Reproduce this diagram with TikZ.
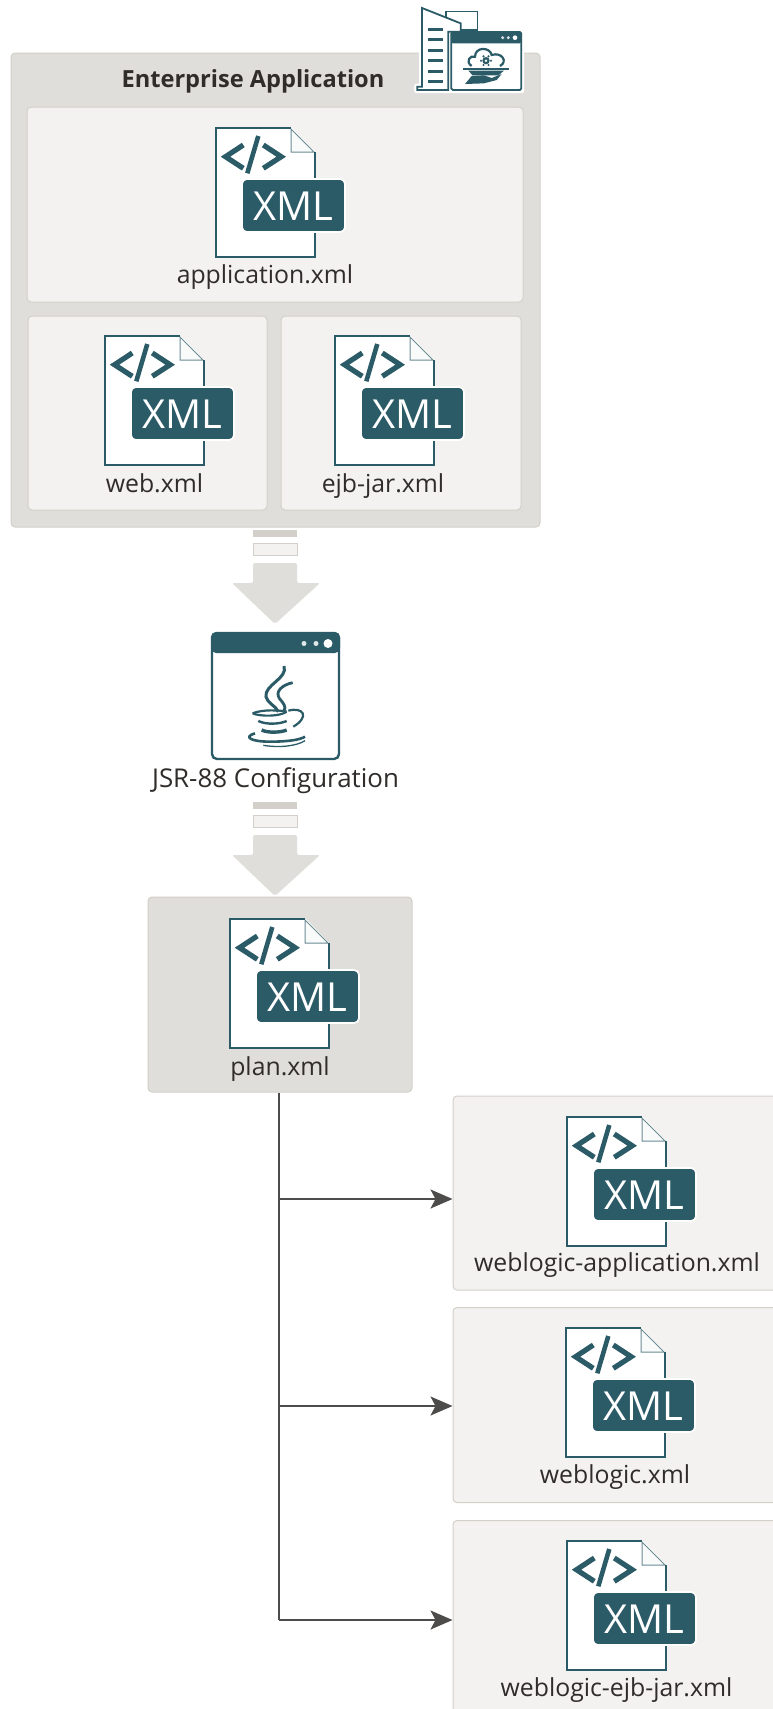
\documentclass[tikz,border=0pt]{standalone}
\usepackage{fontspec}
\usetikzlibrary{arrows.meta}
\setmainfont{Open Sans}
\definecolor{teal}{HTML}{2B5B67}
\definecolor{ink}{HTML}{2F2C2A}
\definecolor{outerfill}{HTML}{DFDEDA}
\definecolor{innerfill}{HTML}{F3F2F0}
\definecolor{edge}{HTML}{D3D0C9}
\tikzset{
  panel/.style={draw=edge,line width=1pt,fill=innerfill,rounded corners=4pt,inner sep=0pt},
  darkpanel/.style={panel,fill=outerfill},
  lbl/.style={text=ink,font=\fontsize{24.8}{28}\selectfont,inner sep=0pt,anchor=base},
  conn/.style={draw=ink!85,line width=1.7pt},
  arr/.style={conn,-{Stealth[length=22pt,width=19pt,inset=5pt]}},
  blockfill/.style={fill=outerfill,draw=none},
  xmldoc/.pic={
    \fill[white] (0,0)--(76,0)--(99,24)--(99,129)--(0,129)--cycle;
    \draw[teal!70,line width=1pt,fill=white!97!teal] (75,1)--(75,24)--(98,24)--cycle;
    \draw[teal,line width=2.8pt,line join=miter] (75,0)--(0,0)--(0,129)--(99,129)--(99,24);
    \draw[teal,line width=5.2pt] (27.3,17)--(9.5,28.7)--(27.3,40.3);
    \draw[teal,line width=4.6pt] (42.3,8)--(31.3,45.3);
    \draw[teal,line width=5.2pt] (47.3,17)--(65.2,28.7)--(47.3,40.3);
    \draw[white,fill=teal,line width=1.6pt,rounded corners=5pt] (26,51) rectangle (129,104);
    \node[text=white,font=\fontsize{40}{40}\selectfont,inner sep=0pt] at (77.5,78) {XML};
  },
  barlight/.style={fill=innerfill,draw=edge,line width=1pt},
}
\begin{document}
\begin{tikzpicture}[x=1pt,y=-1pt]
\useasboundingbox (0,0) rectangle (773,1709);
\fill[white] (0,0) rectangle (773,1709);

% panels
\node[darkpanel,minimum width=529pt,minimum height=474pt] (ent) at (275.5,290) {};
\node[panel,minimum width=496pt,minimum height=195pt] (appbox) at (275,204.5) {};
\node[panel,minimum width=239pt,minimum height=194pt] (webbox) at (147.5,413) {};
\node[panel,minimum width=240pt,minimum height=194pt] (ejbbox) at (401,413) {};
\node[darkpanel,minimum width=264pt,minimum height=195pt] (plan) at (280,994.5) {};
\node[panel,minimum width=340pt,minimum height=194pt] (wlapp) at (623,1193) {};
\node[panel,minimum width=340pt,minimum height=195pt] (wlmain) at (623,1405) {};
\node[panel,minimum width=340pt,minimum height=205pt] (wlejb) at (623,1623) {};

% title and top-right icon
\node[text=ink,font=\fontsize{23.6}{28}\selectfont\bfseries,inner sep=0pt,anchor=base] (enttitle) at (253,87) {Enterprise Application};
\begin{scope}[shift={(360,0)},scale=1/3]
  \draw[white,fill=white,line width=5pt,line join=round] (185,22)--(300,70)--(300,90)--(352,90)--(352,35)--(258,35)--(258,40)--(185,22)--(185,258)--(170,258)--(170,272)--(485,272)--(485,95)--(300,95)--cycle;
  \draw[teal,line width=1.5pt,fill=white] (258,35) rectangle (352,90);
  \draw[teal,line width=1.8pt,fill=white] (186,24)--(302,70)--(302,95)--(265,95)--(265,270)--(172,270)--(172,260)--(186,260)--cycle;
  \foreach \fy in {88,119,151,182,214,245} \draw[teal,line width=2.6pt] (203,\fy)--(250,\fy);
  \draw[teal,line width=1.8pt,fill=white,rounded corners=1.5pt] (274,96) rectangle (484,270);
  \fill[teal,rounded corners=1.5pt] (274,96) rectangle (484,130);
  \fill[white!80!teal] (428,113) circle (5);
  \fill[white!80!teal] (445,113) circle (5);
  \fill[white] (465,113) circle (7);
  \draw[teal,line width=2.2pt] (335,198) .. controls (315,185) and (330,165) .. (345,170) .. controls (345,140) and (390,140) .. (395,165) .. controls (425,155) and (445,185) .. (420,198);
  \fill[teal] (378,182) circle (11);
  \fill[white] (378,182) circle (4);
  \foreach \ang in {0,60,...,300} \fill[teal] (378,182) ++(\ang:15) circle (3.5);
  \draw[teal,line width=1.8pt] (310,206)--(446,206);
  \fill[teal] (325,212)--(432,212)--(415,226)--(338,226)--cycle;
  \fill[teal] (315,252)--(335,228)--(372,226)--(395,234)--(425,222)--(410,240)--(372,250)--cycle;
\end{scope}

% documents
\pic at (216,128) {xmldoc};
\pic at (105,336) {xmldoc};
\pic at (335,336) {xmldoc};
\pic at (230,919) {xmldoc};
\pic at (567,1117) {xmldoc};
\pic at (566,1328) {xmldoc};
\pic at (567,1541) {xmldoc};

\node[lbl] (appl) at (265,283) {application.xml};
\node[lbl] (webl) at (154.5,492) {web.xml};
\node[lbl] (ejbl) at (383,492) {ejb-jar.xml};
\node[lbl] (planl) at (280,1075) {plan.xml};
\node[lbl] (wlappl) at (617,1271) {weblogic-application.xml};
\node[lbl] (wlmainl) at (615,1483) {weblogic.xml};
\node[lbl] (wlejbl) at (616.5,1696) {weblogic-ejb-jar.xml};

% block arrows
\foreach \oy in {0,272}{
  \begin{scope}[yshift=-\oy pt]
    \fill[edge] (253,530) rectangle (297,536.5);
    \draw[barlight] (253,543.5) rectangle (297,555.5);
    \fill[blockfill,rounded corners=2pt] (253,563)--(297,563)--(297,583)--(320,583)--(275,624)--(232,583)--(253,583)--cycle;
  \end{scope}
}

% java window
\draw[teal,line width=2.4pt,fill=white,rounded corners=5pt] (212,633) rectangle (339,759);
\fill[teal,rounded corners=5pt] (211,632) -- (340,632) -- (340,653) -- (211,653) -- cycle;
\fill[white!85!teal] (304,643.5) circle (2.5);
\fill[white!85!teal] (316,643.5) circle (2.5);
\fill[white] (328,643.5) circle (4.5);
\begin{scope}[shift={(140,520)},scale=1/3,teal]
  \draw[line width=3pt] (432,438) .. controls (445,475) and (372,495) .. (378,530) .. controls (382,550) and (405,555) .. (415,575);
  \draw[line width=2.8pt] (458,488) .. controls (425,495) and (405,515) .. (418,535) .. controls (430,550) and (440,560) .. (432,572);
  \draw[line width=2.2pt] (338,580) .. controls (365,568) and (420,570) .. (440,575);
  \draw[line width=2.2pt] (440,575) .. controls (420,590) and (360,590) .. (338,580);
  \draw[line width=2.4pt] (355,603) .. controls (380,615) and (420,612) .. (440,603);
  \draw[line width=3.4pt] (365,630) .. controls (385,640) and (425,637) .. (440,630);
  \draw[line width=2.2pt] (445,572) .. controls (490,560) and (510,590) .. (460,620);
  \draw[line width=2.6pt] (345,640) .. controls (310,650) and (330,665) .. (390,665) .. controls (440,665) and (480,660) .. (495,650);
  \draw[line width=1.3pt] (370,676) .. controls (420,684) and (470,678) .. (495,662);
\end{scope}
\node[lbl,font=\fontsize{25.9}{28}\selectfont] (jsr) at (275.5,787) {JSR-88 Configuration};

% connectors
\coordinate (j1) at (279,1199);
\coordinate (j2) at (279,1406);
\coordinate (j3) at (279,1620);
\draw[conn] (plan.south -| j1) -- (j3);
\draw[arr] (j1) -- (wlapp.west |- j1);
\draw[arr] (j2) -- (wlmain.west |- j2);
\draw[arr] (j3) -- (wlejb.west |- j3);
\end{tikzpicture}
\end{document}
